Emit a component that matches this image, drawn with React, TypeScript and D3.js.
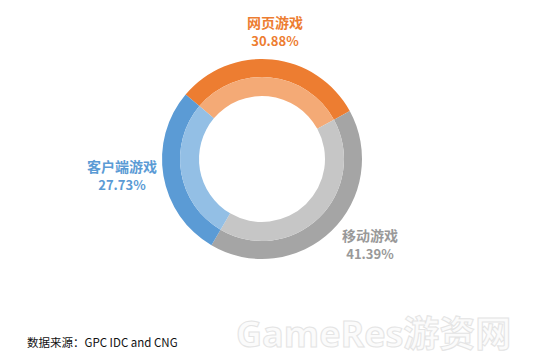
import React, { useEffect, useRef } from 'react';
import * as d3 from 'd3';

// shares of the Chinese game market
const categories = ['网页游戏', '移动游戏', '客户端游戏'];
const shares = [30.88, 41.39, 27.73];
const shareLabels = ['30.88%', '41.39%', '27.73%'];
const outerColors = ['#ED7D31', '#A5A5A5', '#5B9BD5'];
const innerColors = ['#F4AA76', '#C6C6C6', '#93BFE5'];
const labelColors = ['#ED7D31', '#999999', '#5B9BD5'];

const App = () => {
  const svgRef = useRef<SVGSVGElement>(null);

  useEffect(() => {
    const width = 546;
    const height = 362;
    const cx = 262;
    const cy = 159;

    const svg = d3.select(svgRef.current);
    svg.selectAll('*').remove();
    svg.attr('width', width).attr('height', height).style('background', '#ffffff');

    const data = categories.map((c, i) => ({ label: c, value: shares[i], pct: shareLabels[i], i }));

    const pie = d3.pie<any>()
      .value(d => d.value)
      .sort(null)
      .startAngle((-49.8 * Math.PI) / 180)
      .endAngle((-49.8 * Math.PI) / 180 + 2 * Math.PI);

    const arcs = pie(data);

    const outerArc = d3.arc<any>().innerRadius(82).outerRadius(100);
    const innerArc = d3.arc<any>().innerRadius(63).outerRadius(82);

    const g = svg.append('g').attr('transform', `translate(${cx},${cy})`);

    g.selectAll('.outer')
      .data(arcs)
      .enter()
      .append('path')
      .attr('class', 'outer')
      .attr('d', outerArc)
      .attr('fill', d => outerColors[d.data.i]);

    g.selectAll('.inner')
      .data(arcs)
      .enter()
      .append('path')
      .attr('class', 'inner')
      .attr('d', innerArc)
      .attr('fill', d => innerColors[d.data.i]);

    // label positions (relative to centre)
    const labelPos = [
      { x: 13, y: -131 },
      { x: 108, y: 82 },
      { x: -140, y: 13 },
    ];

    const labels = svg.append('g').attr('transform', `translate(${cx},${cy})`);
    arcs.forEach(a => {
      const p = labelPos[a.data.i];
      const t = labels.append('text')
        .attr('x', p.x)
        .attr('y', p.y)
        .attr('text-anchor', 'middle')
        .attr('fill', labelColors[a.data.i])
        .attr('font-family', '"Noto Sans CJK SC", "Noto Sans", sans-serif')
        .attr('font-weight', 'bold')
        .attr('font-size', 14);
      t.append('tspan').attr('x', p.x).attr('dy', 0).text(a.data.label);
      t.append('tspan').attr('x', p.x).attr('dy', 18).attr('font-size', 13).text(a.data.pct);
    });

    // watermark
    svg.append('text')
      .attr('x', 236)
      .attr('y', 347)
      .attr('font-family', '"Open Sans", "Noto Sans CJK SC", sans-serif')
      .attr('font-weight', 'bold')
      .attr('font-size', 36)
      .attr('fill', '#fbfbfb')
      .attr('stroke', '#e4e4e4')
      .attr('stroke-width', 1)
      .text('GameRes游资网');

    // source note
    svg.append('text')
      .attr('x', 27)
      .attr('y', 347)
      .attr('fill', '#111111')
      .attr('font-family', '"Noto Sans CJK SC", "Liberation Sans", sans-serif')
      .attr('font-size', 11.5)
      .text('数据来源：GPC IDC and CNG');
  }, []);

  return (
    <div style={{ position: 'absolute', left: 0, top: 0 }}>
      <svg ref={svgRef}></svg>
    </div>
  );
};

export default App;
